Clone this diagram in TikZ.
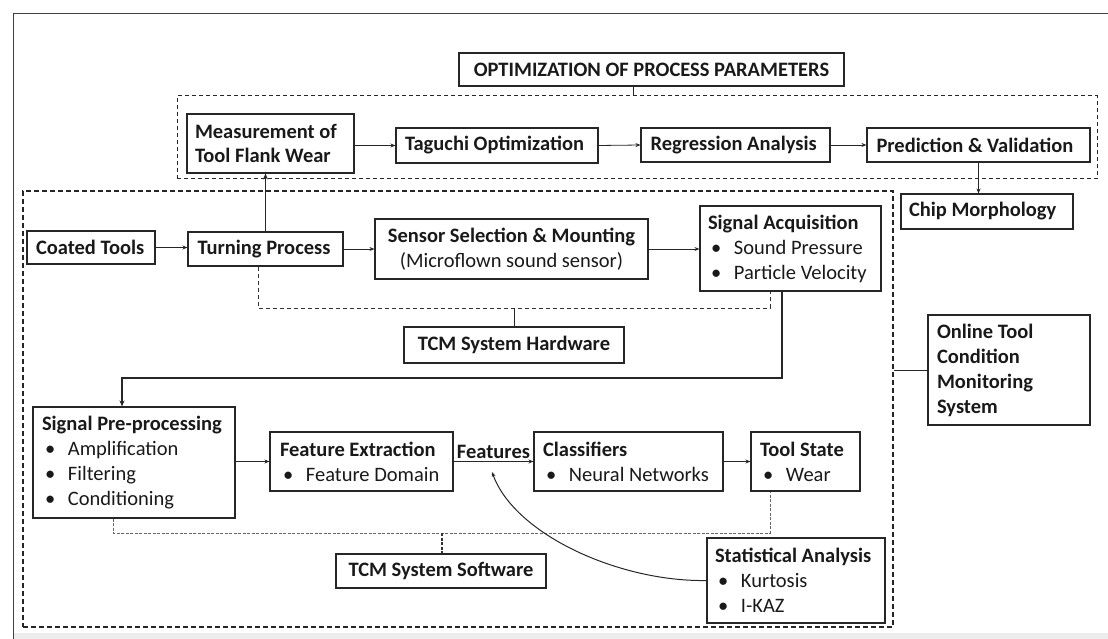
\documentclass[tikz,border=0pt]{standalone}
\usepackage{fontspec}
\setmainfont{Carlito}
\usetikzlibrary{arrows.meta}
\newcommand\itm[1]{\hspace*{3pt}\makebox[23pt][l]{\textbullet}#1}
\begin{document}
\begin{tikzpicture}[x=1pt,y=-1pt,
  box/.style={draw=black!85, line width=1.1pt, inner sep=0pt, align=left,
    font=\fontsize{20.5}{25}\selectfont, text=black!90,
    execute at begin node={\spaceskip=\fontdimen2\font\relax}},
  bbox/.style={box, font=\bfseries\fontsize{20.5}{25}\selectfont},
  cbox/.style={box, align=center},
  dboxA/.style={draw=black!85, line width=1.3pt, dash pattern=on 5pt off 3pt, inner sep=0pt},
  dboxB/.style={draw=black!85, line width=1pt, dash pattern=on 4pt off 3pt, inner sep=0pt},
  arr/.style={draw=black!85, line width=0.8pt, -{Stealth[length=5pt,width=4pt]}},
  thickarr/.style={draw=black!85, line width=1.6pt, -{Stealth[length=6pt,width=5pt]}},
  link/.style={draw=black!85, line width=0.9pt},
  hwbr/.style={draw=black!80, line width=0.9pt, dash pattern=on 4pt off 3pt},
  swbr/.style={draw=black!60, line width=0.8pt, dash pattern=on 3pt off 1.5pt},
]
\useasboundingbox (0,0) rectangle (1108,639);
% frame
\fill[black!7] (13,633) rectangle (1108,639);
\draw[black!75, line width=1pt] (1108,14) -- (13,14) -- (13,639);

% dashed groups
\node[dboxB, minimum width=920pt, minimum height=83pt] (opt) at (637,137.5) {};
\node[dboxA, minimum width=870pt, minimum height=436pt] (tcm) at (458,409) {};

% top row
\node[bbox, align=center, minimum width=385pt, minimum height=33pt] (title) at (651.5,69.5) {OPTIMIZATION OF PROCESS PARAMETERS};
\node[bbox, font=\bfseries\fontsize{20.5}{24}\selectfont, minimum width=167pt, minimum height=59pt, text width=151pt] (meas) at (270.5,143.5) {Measurement of\\Tool Flank Wear};
\node[bbox, minimum width=202pt, minimum height=35pt] (tag) at (497,145.5) {\makebox[184pt][l]{Taguchi Optimization}};
\node[bbox, minimum width=189pt, minimum height=34pt] (reg) at (735.5,145) {\makebox[170pt][l]{Regression Analysis}};
\node[bbox, minimum width=223pt, minimum height=34pt] (pred) at (978.5,145) {\makebox[204pt][l]{Prediction \& Validation}};
\node[bbox, minimum width=172pt, minimum height=35pt] (chip) at (987,211.5) {\makebox[156pt][l]{Chip Morphology}};

% hardware row
\node[bbox, minimum width=128pt, minimum height=33pt] (coated) at (91,247.5) {\makebox[110pt][l]{Coated Tools}};
\node[bbox, minimum width=155pt, minimum height=34pt] (turn) at (265.5,249) {\makebox[136pt][l]{Turning Process}};
\node[cbox, minimum width=273pt, minimum height=60pt] (sensor) at (511.5,249) {\textbf{Sensor Selection \& Mounting}\\(Microflown sound sensor)};
\node[box, minimum width=181pt, minimum height=85pt, text width=165pt] (acq) at (790.5,248.5) {\textbf{Signal Acquisition}\\\itm{Sound Pressure}\\\itm{Particle Velocity}};
\node[bbox, align=center, minimum width=220pt, minimum height=36pt] (hw) at (514,345) {TCM System Hardware};
\node[bbox, minimum width=162pt, minimum height=110pt, text width=144pt] (online) at (1009,370) {Online Tool\\Condition\\Monitoring\\System};

% software row
\node[box, minimum width=202pt, minimum height=111pt, text width=184pt] (pre) at (134,462.5) {\textbf{Signal Pre-processing}\\\itm{Amplification}\\\itm{Filtering}\\\itm{Conditioning}};
\node[box, minimum width=183pt, minimum height=59pt, text width=163pt] (fe) at (361.5,461.5) {\textbf{Feature Extraction}\\\itm{Feature Domain}};
\node[box, minimum width=189pt, minimum height=59pt, text width=171pt] (cls) at (628.5,461.5) {\textbf{Classifiers}\\\itm{Neural Networks}};
\node[box, minimum width=109pt, minimum height=59pt, text width=91pt] (ts) at (805.5,461.5) {\textbf{Tool State}\\\itm{Wear}};
\node[bbox, align=center, minimum width=210pt, minimum height=34pt] (sw) at (441,571) {TCM System Software};
\node[box, minimum width=178pt, minimum height=85pt, text width=162pt] (stat) at (796,580.5) {\textbf{Statistical Analysis}\\\itm{Kurtosis}\\\itm{I-KAZ}};

% helper coordinates
\coordinate (tick) at (633,96);
\coordinate (hwL) at (258,308);
\coordinate (hwR) at (770,308);
\coordinate (rtR) at (782,378);
\coordinate (rtL) at (122,378);
\coordinate (swL) at (113,533);
\coordinate (swR) at (770,533);
\coordinate (swT) at (442,533);
\coordinate (featpt) at (492,472);

% connectors: optimisation
\draw[link] (title.south -| tick) -- (tick);
\draw[thickarr] (turn.north) -- (turn.north |- meas.south);
\draw[arr] (meas.east |- tag.west) -- (tag.west);
\draw[arr] (tag.east) -- (reg.west);
\draw[arr] (reg.east) -- (pred.west);
\draw[arr] (pred.south) -- (pred.south |- chip.north);

% hardware chain
\draw[arr] (coated.east) -- (coated.east -| turn.west);
\draw[arr] (turn.east) -- (turn.east -| sensor.west);
\draw[arr] (sensor.east) -- (sensor.east -| acq.west);
\draw[hwbr] (turn.south -| hwL) -- (hwL) -- (hwR) -- (acq.south -| hwR);
\draw[link] (hw.north) -- (hw.north |- hwL);
\draw[thickarr] (acq.south -| rtR) -- (rtR) -- (rtL) -- (pre.north -| rtL);

% software chain
\draw[arr] (pre.east |- fe.west) -- (fe.west);
\draw[arr] (fe.east) -- node[anchor=base, yshift=3pt, inner sep=0pt, font=\bfseries\fontsize{20.5}{25}\selectfont, text=black!90] (featlbl) {Features} (cls.west);
\draw[arr] (cls.east) -- (ts.west);
\draw[swbr] (pre.south -| swL) -- (swL) -- (swR) -- (ts.south -| swR);
\draw[swbr, line width=1.2pt, draw=black!80] (swT) -- (swT |- sw.north);
\draw[arr, line width=1pt] (stat.west) .. controls (620,582) and (515,535) .. (featpt);

% link to online TCM
\draw[link] (tcm.east |- online.west) -- (online.west);
\end{tikzpicture}
\end{document}
